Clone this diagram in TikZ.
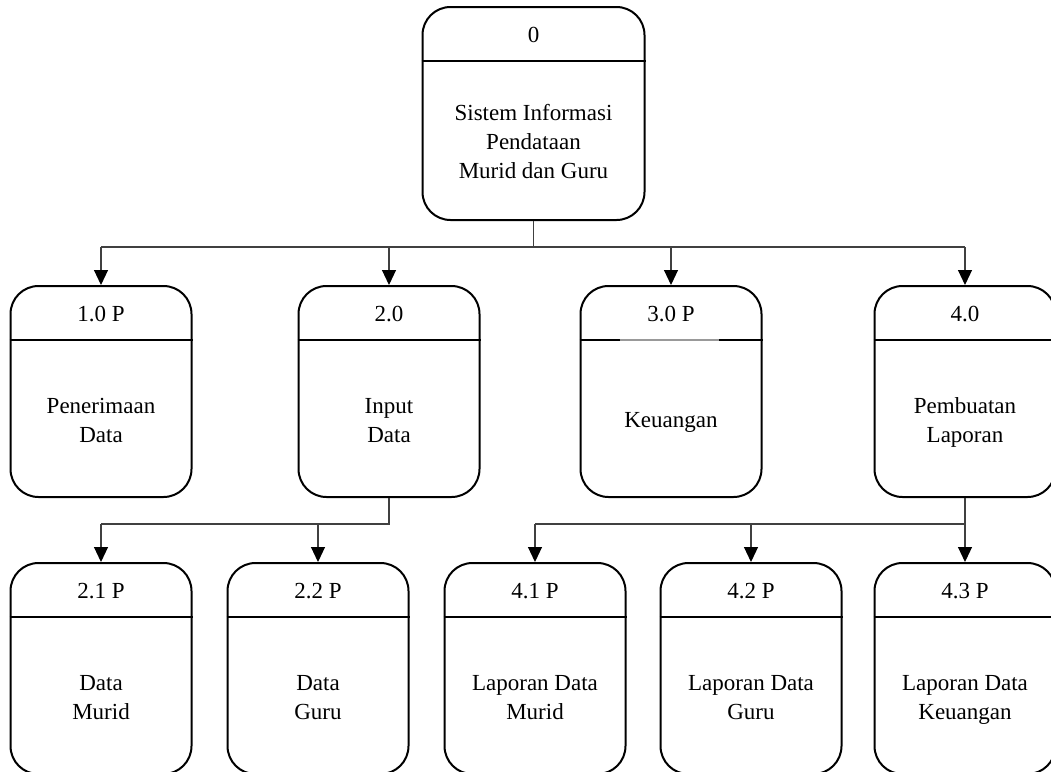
\documentclass[tikz,border=0pt]{standalone}
\usepackage{fontspec}
\setmainfont{Liberation Serif}
\usetikzlibrary{arrows.meta,calc}

\tikzset{
  proc/.style={draw, line width=2pt, rounded corners=28pt,
    minimum width=181pt, minimum height=211pt, inner sep=0pt},
  conn/.style={line width=1.1pt, black!75},
  flow/.style={conn, -{Triangle[width=14pt,length=15pt,color=black]}},
  lbl/.style={align=center, font=\fontsize{23}{29}\selectfont, yshift=-3pt},
}

\begin{document}
\begin{tikzpicture}[x=1pt,y=-1pt]
    \useasboundingbox (0,0) rectangle (1051,771);
    \clip (0,0) rectangle (1051,771);

    % level 0
    \node[proc, minimum width=222pt, minimum height=213pt] (p0) at (533.5,113.5) {};
    % level 1
    \node[proc] (p1) at (101,391.5) {};
    \node[proc] (p2) at (389,391.5) {};
    \node[proc] (p3) at (671,391.5) {};
    \node[proc] (p4) at (965,391.5) {};
    % level 2
    \node[proc] (p21) at (101,668.5) {};
    \node[proc] (p22) at (318,668.5) {};
    \node[proc] (p41) at (535,668.5) {};
    \node[proc] (p42) at (751,668.5) {};
    \node[proc] (p43) at (965,668.5) {};

    \foreach \n/\id/\txt in {p0/0/{Sistem Informasi\\Pendataan\\Murid dan Guru},
        p1/1.0 P/{Penerimaan\\Data}, p2/2.0/{Input\\Data}, p3/3.0 P/{Keuangan},
        p4/4.0/{Pembuatan\\Laporan}, p21/2.1 P/{Data\\Murid}, p22/2.2 P/{Data\\Guru},
        p41/4.1 P/{Laporan Data\\Murid}, p42/4.2 P/{Laporan Data\\Guru},
        p43/4.3 P/{Laporan Data\\Keuangan}} {
      \draw[line width=1.4pt] ([yshift=-55pt]\n.north west) -- ([yshift=-55pt]\n.north east);
      \node[lbl] (\n-id) at ([yshift=-27.5pt]\n.north) {\strut\id};
      \node[lbl] (\n-txt) at ($(\n.south)!0.5!([yshift=-55pt]\n.north)$) {\strut\txt\strut};
    }
    \draw[line width=1.4pt, black!40] ([xshift=40pt,yshift=-55pt]p3.north west)
        -- ([xshift=-44pt,yshift=-55pt]p3.north east);

    % level 0 -> level 1
    \coordinate (j0) at (p0.south |- 0,247);
    \draw[conn] (p0.south) -- (j0);
    \draw[conn] (p1 |- j0) -- (p4 |- j0);
    \foreach \n in {p1,p2,p3,p4}
      \draw[flow] (\n |- j0) -- (\n.north);

    % level 1 -> level 2
    \coordinate (j2) at (p2.south |- 0,524);
    \draw[conn] (p2.south) -- (j2) -- (p21 |- j2);
    \foreach \n in {p21,p22}
      \draw[flow] (\n |- j2) -- (\n.north);
    \coordinate (j4) at (p4.south |- 0,524);
    \draw[conn] (p4.south) -- (j4) -- (p41 |- j4);
    \foreach \n in {p41,p42,p43}
      \draw[flow] (\n |- j4) -- (\n.north);
\end{tikzpicture}
\end{document}
